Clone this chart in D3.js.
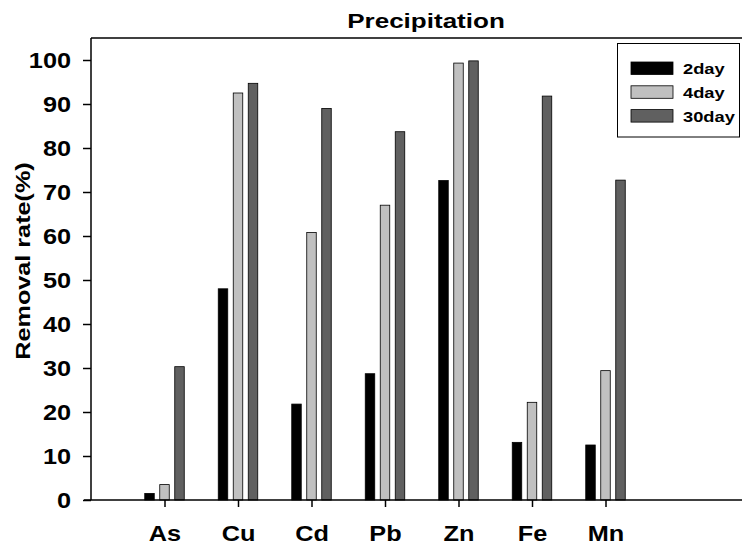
<!DOCTYPE html>
<html>
<head>
<meta charset="utf-8">
<script src="https://cdn.jsdelivr.net/npm/d3@7"></script>
<style>
  body { margin: 0; background: #fff; }
  text { font-family: "Liberation Sans", Arial, sans-serif; font-weight: bold; }
</style>
</head>
<body>
<script>
var w = 742;
var h = 546;

// data
var metals = ["As", "Cu", "Cd", "Pb", "Zn", "Fe", "Mn"];
var series = ["2day", "4day", "30day"];
var day2 = [1.5, 48.0, 21.8, 28.7, 72.6, 13.1, 12.5];
var day4 = [3.5, 92.5, 60.8, 67.0, 99.3, 22.2, 29.4];
var day30 = [30.3, 94.7, 89.0, 83.7, 99.8, 91.8, 72.7];
var yTicks = [0, 10, 20, 30, 40, 50, 60, 70, 80, 90, 100];

var colors = ["#000000", "#c0c0c0", "#606060"];
var values = [day2, day4, day30];

var plotLeft = 91, plotTop = 38, plotBottom = 500;
var stretch = 1.15; // the original lettering is a bit wider than Arial

var xScale = d3.scaleLinear()
    .domain([0, 9])
    .range([plotLeft, plotLeft + 9 * 73.5]);

var yScale = d3.scaleLinear()
    .domain([0, 105])
    .range([plotBottom, plotTop]);

var svg = d3.select("body")
    .append("svg")
    .attr("width", w)
    .attr("height", h);

// bars, grouped around each tick
var offsets = [-15, 0, 15];
var barW = 9.5;
values.forEach(function(vals, s) {
    svg.append("g")
        .selectAll("rect")
        .data(vals)
        .enter()
        .append("rect")
        .attr("x", function(d, i) { return xScale(i + 1) + offsets[s] - barW / 2; })
        .attr("y", function(d) { return yScale(d); })
        .attr("width", barW)
        .attr("height", function(d) { return plotBottom - yScale(d); })
        .attr("fill", colors[s])
        .attr("stroke", "#000")
        .attr("stroke-width", 0.8);
});

// top frame line
svg.append("line")
    .attr("x1", plotLeft).attr("x2", w)
    .attr("y1", plotTop).attr("y2", plotTop)
    .attr("stroke", "#000")
    .attr("stroke-width", 1.5);

// x axis
var xAxis = svg.append("g")
    .attr("transform", "translate(0," + plotBottom + ")")
    .call(d3.axisBottom(xScale)
        .tickValues(d3.range(1, metals.length + 1))
        .tickFormat(function(d) { return metals[d - 1]; })
        .tickSize(7)
        .tickPadding(18)
        .tickSizeOuter(0));
xAxis.select(".domain").attr("d", "M" + (plotLeft - 7) + ",0H" + w).attr("stroke-width", 1.5);
xAxis.selectAll(".tick line").attr("stroke-width", 1.5);
xAxis.selectAll("text")
    .attr("font-size", "22px")
    .attr("fill", "#000")
    .attr("transform", "scale(" + stretch + ",1)");

// y axis
var yAxis = svg.append("g")
    .attr("transform", "translate(" + plotLeft + ",0)")
    .call(d3.axisLeft(yScale)
        .tickValues(yTicks)
        .tickSize(8)
        .tickPadding(12)
        .tickSizeOuter(0));
yAxis.select(".domain").attr("d", "M0," + plotTop + "V" + plotBottom).attr("stroke-width", 1.5);
yAxis.selectAll(".tick line").attr("stroke-width", 1.5);
yAxis.selectAll("text")
    .attr("font-size", "22px")
    .attr("fill", "#000")
    .attr("x", -20 / stretch)
    .attr("transform", "scale(" + stretch + ",1)");

// title
svg.append("text")
    .attr("text-anchor", "middle")
    .attr("transform", "translate(426,28) scale(1.24,1)")
    .attr("font-size", "21px")
    .text("Precipitation");

// y label
svg.append("text")
    .attr("text-anchor", "middle")
    .attr("transform", "translate(30,261) rotate(-90) scale(1.2,1)")
    .attr("font-size", "21px")
    .text("Removal rate(%)");

// legend
var legend = svg.append("g");
legend.append("rect")
    .attr("x", 617.5).attr("y", 43.5)
    .attr("width", 122).attr("height", 93.5)
    .attr("fill", "#fff")
    .attr("stroke", "#000")
    .attr("stroke-width", 1);
series.forEach(function(name, s) {
    var yy = 62 + s * 23.8;
    legend.append("rect")
        .attr("x", 631).attr("y", yy)
        .attr("width", 42).attr("height", 12.5)
        .attr("fill", colors[s])
        .attr("stroke", "#000")
        .attr("stroke-width", 0.8);
    legend.append("text")
        .attr("transform", "translate(683," + (yy + 12) + ") scale(1.22,1)")
        .attr("font-size", "15px")
        .text(name);
});
</script>
</body>
</html>
